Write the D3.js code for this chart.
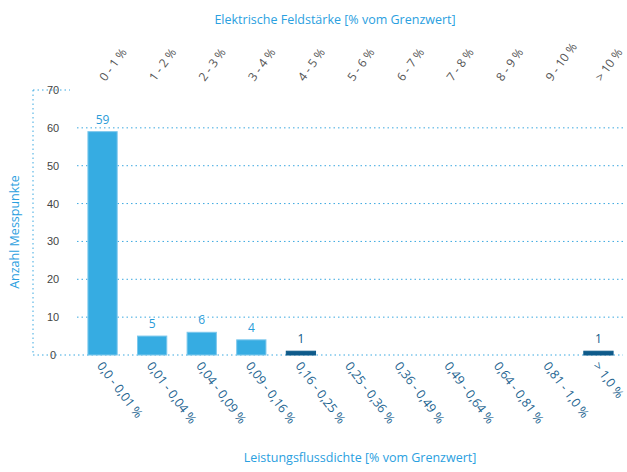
<!DOCTYPE html>
<html>
<head>
<meta charset="utf-8">
<script src="https://cdn.jsdelivr.net/npm/d3@7/dist/d3.min.js"></script>
<style>
  body { margin: 0; background: #fff; }
  svg { font-family: "Open Sans", "Noto Sans", sans-serif; }
  .grid line { stroke: #3aa8e0; stroke-dasharray: 1.5 3; }
  .ytick text { fill: #444; font-size: 11px; }
</style>
</head>
<body>
<div id="chart"></div>
<script>
// Kategorien und Werte
const powerLabels = ["0,0 - 0,01 %", "0,01 - 0,04 %", "0,04 - 0,09 %", "0,09 - 0,16 %", "0,16 - 0,25 %",
  "0,25 - 0,36 %", "0,36 - 0,49 %", "0,49 - 0,64 %", "0,64 - 0,81 %", "0,81 - 1,0 %", "> 1,0 %"];
const fieldLabels = ["0 - 1 %", "1 - 2 %", "2 - 3 %", "3 - 4 %", "4 - 5 %", "5 - 6 %",
  "6 - 7 %", "7 - 8 %", "8 - 9 %", "9 - 10 %", "> 10 %"];
const counts = [59, 5, 6, 4, 1, 0, 0, 0, 0, 0, 1];
const yTicks = [0, 10, 20, 30, 40, 50, 60, 70];

const width = 627, height = 472;
const light = "#36ace2", dark = "#0e5a8a";

const svg = d3.select("#chart").append("svg")
    .attr("width", width).attr("height", height);

const x = d3.scaleBand().domain(powerLabels).range([78, 623]).paddingInner(0.41).paddingOuter(0.2);
const y = d3.scaleLinear().domain([0, 70]).range([355, 90]);
const cx = d => x(d) + x.bandwidth() / 2;

const bars = counts.map((v, i) => ({cat: powerLabels[i], v}));

// Gitterlinien
const grid = svg.append("g").attr("class", "grid");
grid.selectAll("line").data(yTicks.filter(d => d > 0 && d < 70)).enter().append("line")
    .attr("x1", 77).attr("x2", 623).attr("y1", d => y(d)).attr("y2", d => y(d));
grid.append("line").attr("x1", 33).attr("x2", 623).attr("y1", y(0)).attr("y2", y(0));
grid.append("line").attr("x1", 33).attr("x2", 70).attr("y1", y(70)).attr("y2", y(70));
grid.append("line").attr("x1", 33).attr("x2", 33).attr("y1", y(70)).attr("y2", y(0));

// y-Achse (Beschriftung innen)
const yAxis = svg.append("g").attr("class", "ytick")
    .attr("transform", "translate(62,0)")
    .call(d3.axisLeft(y).tickValues(yTicks).tickSize(0).tickPadding(0));
yAxis.select(".domain").remove();
yAxis.selectAll("text").attr("text-anchor", "middle").attr("dx", -9);

// Balken
svg.selectAll(".bar").data(bars).enter().append("rect")
    .attr("class", "bar")
    .attr("x", d => x(d.cat))
    .attr("width", x.bandwidth())
    .attr("y", d => y(d.v))
    .attr("height", d => y(0) - y(d.v))
    .attr("fill", d => d.v <= 1 ? dark : light)
    .attr("stroke", d => d.v <= 1 ? dark : "#7cc8ec")
    .attr("stroke-width", 1);

svg.selectAll(".val").data(bars.filter(d => d.v > 0)).enter().append("text")
    .attr("class", "val")
    .attr("x", d => cx(d.cat))
    .attr("y", d => y(d.v) - 8)
    .attr("text-anchor", "middle")
    .attr("font-size", 12)
    .attr("fill", d => d.v <= 1 ? dark : "#2a9bd8")
    .text(d => d.v);

// untere Kategorien
svg.append("g").selectAll("text").data(powerLabels).enter().append("text")
    .attr("transform", d => `translate(${cx(d) - 6},${366}) rotate(53)`)
    .attr("font-size", 12.5)
    .attr("fill", "#1d6490")
    .text(d => d);

// obere Kategorien
svg.append("g").selectAll("text").data(fieldLabels).enter().append("text")
    .attr("transform", (d, i) => `translate(${cx(powerLabels[i]) + 3},${82}) rotate(-54)`)
    .attr("font-size", 12)
    .attr("fill", "#555")
    .text(d => d);

// Achsentitel
svg.append("text").attr("x", 335).attr("y", 24).attr("text-anchor", "middle")
    .attr("font-size", 12.5).attr("fill", "#2aa0e0")
    .text("Elektrische Feldstärke [% vom Grenzwert]");
svg.append("text").attr("x", 360).attr("y", 462).attr("text-anchor", "middle")
    .attr("font-size", 12.5).attr("fill", "#2aa0e0")
    .text("Leistungsflussdichte [% vom Grenzwert]");
svg.append("text").attr("transform", "translate(19,232) rotate(-90)").attr("text-anchor", "middle")
    .attr("font-size", 12.5).attr("fill", "#2aa0e0")
    .text("Anzahl Messpunkte");
</script>
</body>
</html>
